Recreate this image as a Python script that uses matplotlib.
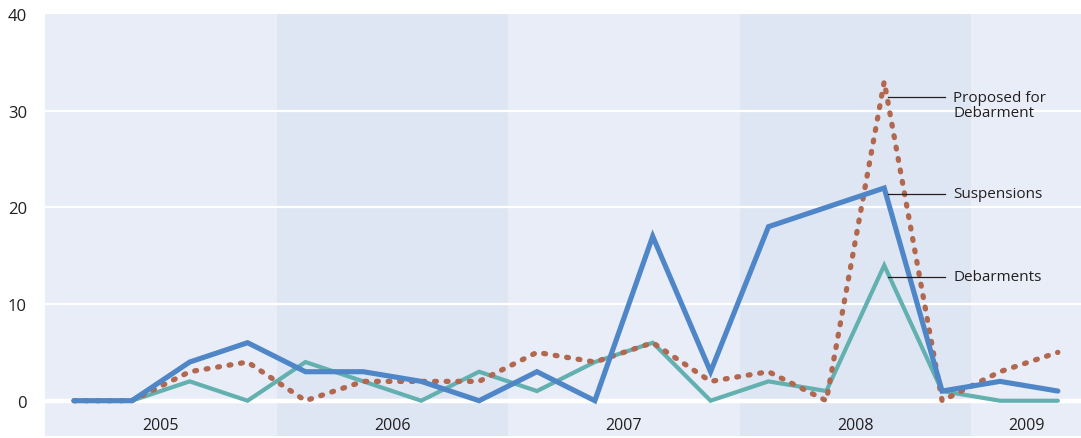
import matplotlib
matplotlib.use("Agg")
import matplotlib.pyplot as plt

plt.rcParams['font.family'] = ['Open Sans', 'DejaVu Sans']

# Quarterly counts, 2005 Q1 through 2009 Q2
years = ["2005", "2006", "2007", "2008", "2009"]
quarters_per_year = [4, 4, 4, 4, 2]
suspensions = [0, 0, 4, 6, 3, 3, 2, 0, 3, 0, 17, 3, 18, 20, 22, 1, 2, 1]
debarments = [0, 0, 2, 0, 4, 2, 0, 3, 1, 4, 6, 0, 2, 1, 14, 1, 0, 0]
proposed = [0, 0, 3, 4, 0, 2, 2, 2, 5, 4, 6, 2, 3, 0, 33, 0, 3, 5]
y_ticks = [0, 10, 20, 30, 40]

c_susp = "#4e86c8"
c_deb = "#62b1b0"
c_prop = "#b2674f"
c_light = "#e8edf7"
c_dark = "#dfe6f3"
txt = "#231f20"

fig = plt.figure(figsize=(10.81, 4.39), dpi=100)
ax = fig.add_axes([45 / 1081, 2 / 439, 1 - 45 / 1081, (437 - 15) / 439])

x = list(range(len(suspensions)))
x_min, x_max = -0.5, 17.4
y_min, y_max = -3.65, 40

# Alternating year bands
start = x_min
for k, (yr, n) in enumerate(zip(years, quarters_per_year)):
    end = min(start + n, x_max)
    ax.axvspan(start, end, color=c_light if k % 2 == 0 else c_dark, lw=0, zorder=0)
    ax.text((start + end) / 2, -2.5, yr, ha="center", va="center",
            fontsize=11.5, color=txt, zorder=5)
    start = end

# Horizontal grid
for t in y_ticks[:-1]:
    ax.axhline(t, color="white", lw=3.2 if t == 0 else 1.6, zorder=1)

ax.plot(x, debarments, color=c_deb, lw=3.0, solid_joinstyle="miter",
        solid_capstyle="round", zorder=3)
ax.plot(x, proposed, color=c_prop, lw=3.8, linestyle=(0, (0.35, 1.85)),
        dash_capstyle="round", zorder=4)
ax.plot(x, suspensions, color=c_susp, lw=3.7, solid_joinstyle="miter",
        solid_capstyle="round", zorder=5)

# Series labels with leader lines
labels = [("Proposed for\nDebarment", 31.4, 30.6),
          ("Suspensions", 21.4, 21.4),
          ("Debarments", 12.8, 12.8)]
for text, y_line, y_text in labels:
    ax.plot([14.07, 15.05], [y_line, y_line], color=txt, lw=0.9, zorder=6)
    ax.text(15.19, y_text, text, ha="left", va="center", fontsize=11,
            color=txt, linespacing=1.0, zorder=6)

ax.set_xlim(x_min, x_max)
ax.set_ylim(y_min, y_max)
ax.set_xticks([])
ax.set_yticks(y_ticks)
ax.set_yticklabels([str(t) for t in y_ticks], fontsize=12, color=txt)
ax.tick_params(axis="y", length=0, pad=13)
for s in ax.spines.values():
    s.set_visible(False)

fig.savefig("out.png", dpi=100, facecolor="white")
